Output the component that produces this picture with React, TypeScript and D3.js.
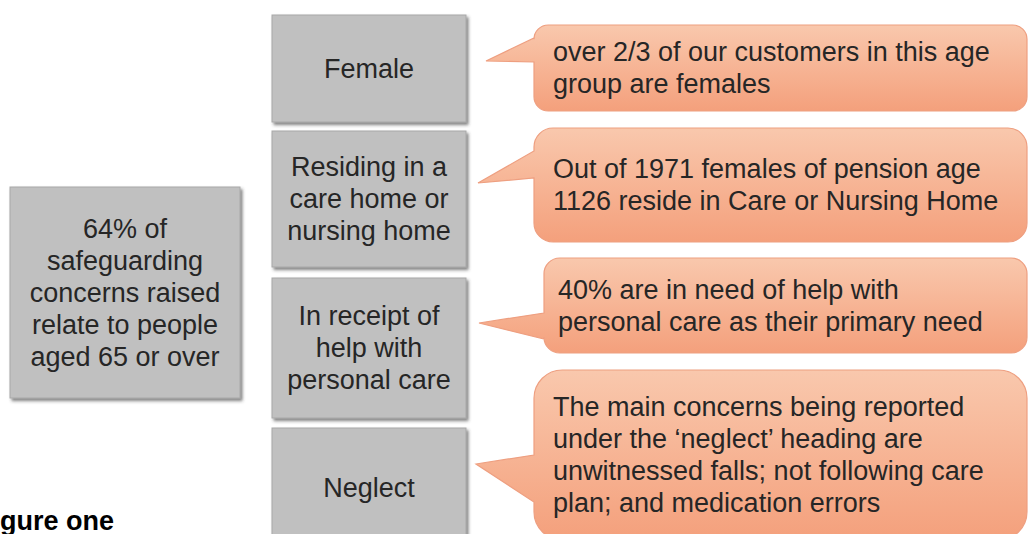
import React, { useEffect, useRef } from "react";
import * as d3 from "d3";

// ---- content (text of the diagram) ----
const summaryLines = ["64% of", "safeguarding", "concerns raised", "relate to people", "aged 65 or over"];
const categories = [
  ["Female"],
  ["Residing in a", "care home or", "nursing home"],
  ["In receipt of", "help with", "personal care"],
  ["Neglect"],
];
const notes = [
  ["over 2/3 of our customers in this age", "group are females"],
  ["Out of 1971 females of pension age", "1126 reside in Care or Nursing Home"],
  ["40% are in need of help with", "personal care as their primary need"],
  ["The main concerns being reported", "under the \u2018neglect\u2019 heading are", "unwitnessed falls; not following care", "plan; and medication errors"],
];
const figureLabel = "Figure one";

// ---- layout (positions, separate from content) ----
const W = 1029, H = 534;
const summaryBox = { x0: 10, x1: 240, y0: 187, y1: 398 };
const catX = [272, 466];
const catY = [[15, 122], [131, 267], [278, 418], [428, 548]];
const noteX1 = 1027;
const noteBoxes = [
  { x0: 534, y0: 25, y1: 111, tip: [486, 61], base: [38, 62], tx: 553 },
  { x0: 534, y0: 128, y1: 242, tip: [478, 183], base: [151, 178], tx: 553 },
  { x0: 544, y0: 258, y1: 353, tip: [479, 323], base: [313, 339], tx: 558 },
  { x0: 534, y0: 370, y1: 540, tip: [476, 464], base: [455, 502], tx: 553 },
];
const FS = 27, LH = 32;
const FONT = "'Liberation Sans', Arial, Helvetica, sans-serif";

function calloutPath(b: any) {
  const x0 = b.x0, x1 = noteX1, y0 = b.y0, y1 = b.y1;
  const r = Math.min(x1 - x0, y1 - y0) * 0.16667;
  const p = d3.path();
  p.moveTo(x0 + r, y0);
  p.lineTo(x1 - r, y0);
  p.arcTo(x1, y0, x1, y0 + r, r);
  p.lineTo(x1, y1 - r);
  p.arcTo(x1, y1, x1 - r, y1, r);
  p.lineTo(x0 + r, y1);
  p.arcTo(x0, y1, x0, y1 - r, r);
  p.lineTo(x0, b.base[1]);
  p.lineTo(b.tip[0], b.tip[1]);
  p.lineTo(x0, b.base[0]);
  p.lineTo(x0, y0 + r);
  p.arcTo(x0, y0, x0 + r, y0, r);
  p.closePath();
  return p.toString();
}

export default function App() {
  const ref = useRef<SVGSVGElement>(null);
  useEffect(() => {
    const svg = d3.select(ref.current);
    svg.selectAll("*").remove();
    const defs = svg.append("defs");
    const f = defs.append("filter").attr("id", "sh").attr("x", "-10%").attr("y", "-10%").attr("width", "130%").attr("height", "130%");
    f.append("feDropShadow").attr("dx", 2).attr("dy", 2.5).attr("stdDeviation", 1.6).attr("flood-color", "#404040").attr("flood-opacity", 0.65);
    const g = defs.append("linearGradient").attr("id", "cg").attr("x1", 0).attr("y1", 0).attr("x2", 0).attr("y2", 1);
    g.append("stop").attr("offset", "0%").attr("stop-color", "#f9c8ad");
    g.append("stop").attr("offset", "100%").attr("stop-color", "#f4a07c");

    const drawLines = (sel: any, lines: string[], x: number, cy: number, anchor: string) => {
      const n = lines.length;
      const t = sel.append("text").attr("font-family", FONT).attr("font-size", FS).attr("fill", "#262626").attr("text-anchor", anchor);
      lines.forEach((l, i) => {
        t.append("tspan").attr("x", x).attr("y", cy + (i - (n - 1) / 2) * LH + 0.35 * FS).text(l);
      });
    };

    // summary box
    svg.append("rect").attr("x", summaryBox.x0).attr("y", summaryBox.y0)
      .attr("width", summaryBox.x1 - summaryBox.x0).attr("height", summaryBox.y1 - summaryBox.y0)
      .attr("fill", "#c0c0c0").attr("stroke", "#a8a8a8").attr("stroke-width", 1).attr("filter", "url(#sh)");
    drawLines(svg, summaryLines, (summaryBox.x0 + summaryBox.x1) / 2, (summaryBox.y0 + summaryBox.y1) / 2, "middle");

    // category boxes
    categories.forEach((lines, i) => {
      const [y0, y1] = catY[i];
      svg.append("rect").attr("x", catX[0]).attr("y", y0).attr("width", catX[1] - catX[0]).attr("height", y1 - y0)
        .attr("fill", "#c0c0c0").attr("stroke", "#a8a8a8").attr("stroke-width", 1).attr("filter", "url(#sh)");
      drawLines(svg, lines, (catX[0] + catX[1]) / 2, (y0 + y1) / 2, "middle");
    });

    // callouts
    notes.forEach((lines, i) => {
      const b = noteBoxes[i];
      svg.append("path").attr("d", calloutPath(b)).attr("fill", "url(#cg)").attr("stroke", "#ee9f80").attr("stroke-width", 1.2);
      drawLines(svg, lines, b.tx, (b.y0 + b.y1) / 2, "start");
    });

    // figure label (partly cropped at the left edge, as in the reference)
    svg.append("text").attr("x", -24).attr("y", 530).attr("font-family", FONT).attr("font-weight", "bold")
      .attr("font-size", 27).attr("fill", "#000").text(figureLabel);
  }, []);
  return (
    <svg ref={ref} width={W} height={H} style={{ position: "absolute", left: 0, top: 0, background: "#fff", overflow: "hidden" }} />
  );
}
